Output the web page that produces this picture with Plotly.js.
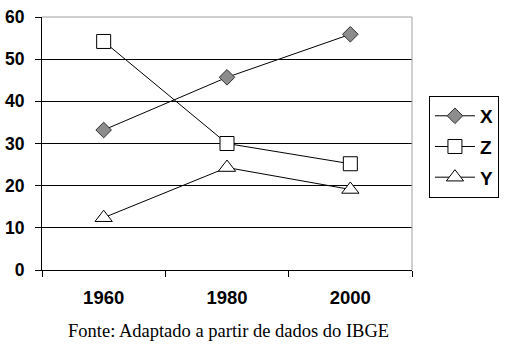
<!DOCTYPE html>
<html><head><meta charset="utf-8">
<script src="https://cdn.plot.ly/plotly-3.0.1.min.js"></script>
<style>html,body{margin:0;padding:0;background:#fff}</style>
</head><body>
<div id="chart" style="width:510px;height:346px"></div>
<script>
var years = ["1960", "1980", "2000"];
var seriesX = [33.2, 45.7, 55.9];
var seriesZ = [54.2, 30.0, 25.2];
var seriesY = [12.4, 24.3, 19.1];
var caption = "Fonte: Adaptado a partir de dados do IBGE";

var lineStyle = {color: "#000", width: 1};
var traces = [
  {name: "X", legendgroup: "gx", x: years, y: seriesX, mode: "lines+markers", line: lineStyle,
   marker: {symbol: "diamond", size: 12, color: "#8c8c8c", line: {color: "#303030", width: 1}}},
  {name: "Z", legendgroup: "gz", x: years, y: seriesZ, mode: "lines+markers", line: lineStyle,
   marker: {symbol: "square", size: 14, color: "#fff", line: {color: "#000", width: 1}}},
  {name: "Y", legendgroup: "gy", x: years, y: seriesY, mode: "lines+markers", line: lineStyle,
   marker: {symbol: "triangle-up", size: 15, color: "#fff", line: {color: "#000", width: 1}}}
];
var layout = {
  width: 510, height: 346,
  margin: {l: 42, r: 97, t: 17, b: 76},
  paper_bgcolor: "#fff", plot_bgcolor: "#fff",
  showlegend: true,
  xaxis: {type: "category", range: [-0.5, 2.5], tickson: "boundaries", showgrid: false,
    showline: true, linecolor: "#000", linewidth: 1,
    ticks: "outside", ticklen: 6, tickcolor: "#000",
    tickfont: {family: "Liberation Sans", size: 18.5, color: "#000", weight: "bold"},
    ticklabelstandoff: 11, fixedrange: true},
  yaxis: {range: [0, 60], dtick: 10, tick0: 0, showgrid: true, gridcolor: "#000", gridwidth: 1,
    zeroline: false, showline: true, linecolor: "#000", linewidth: 1,
    ticks: "outside", ticklen: 6, tickcolor: "#000",
    tickfont: {family: "Liberation Sans", size: 17.5, color: "#000", weight: "bold"},
    ticklabelstandoff: 7, fixedrange: true},
  legend: {x: 1.043, y: 0.688, xanchor: "left", yanchor: "top",
    bordercolor: "#000", borderwidth: 1, bgcolor: "#fff", tracegroupgap: 3,
    font: {family: "Liberation Sans", size: 19, color: "#000", weight: "bold"},
    itemwidth: 40},
  shapes: [
    {type: "line", xref: "x domain", yref: "y domain", x0: 0, x1: 1, y0: 1, y1: 1,
     line: {color: "#a0a0a0", width: 1}, layer: "above"},
    {type: "line", xref: "x domain", yref: "y domain", x0: 1, x1: 1, y0: 0, y1: 1,
     line: {color: "#a0a0a0", width: 1}, layer: "above"}
  ],
  annotations: [
    {text: caption, xref: "paper", yref: "paper", x: 0.503, y: -0.243,
     xanchor: "center", yanchor: "middle", showarrow: false,
     font: {family: "Liberation Serif, Times New Roman, serif", size: 18.5, color: "#000"}}
  ]
};
Plotly.newPlot("chart", traces, layout, {displayModeBar: false, staticPlot: true});
</script>
</body></html>
